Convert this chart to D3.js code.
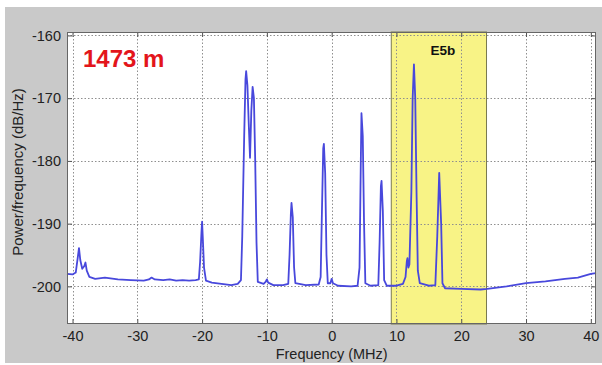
<!DOCTYPE html>
<html>
<head>
<meta charset="utf-8">
<script src="https://cdn.jsdelivr.net/npm/d3@7"></script>
<style>
  body { margin: 0; background: #fff; }
  text { font-family: "Liberation Sans", Arial, sans-serif; }
</style>
</head>
<body>
<div id="chart-area"></div>
<script>
// Spectrum data
var freq = [-40.85, -40.0, -39.5, -39.2, -39.0, -38.8, -38.5, -38.2, -38.0, -37.8, -37.4, -36.5, -35.0, -33.0, -31.0, -29.0, -28.2, -27.8, -27.3,
	-26.0, -25.0, -24.0, -23.0, -22.0, -21.0, -20.5, -20.3, -20.1, -20.0, -19.9, -19.7, -19.4, -18.5, -17.0, -15.5, -14.5, -14.0,
	-13.8, -13.5, -13.3, -13.2, -13.0, -12.8, -12.6, -12.4, -12.2, -12.0, -11.8, -11.6, -11.4, -10.5, -10.2, -10.0, -9.8, -9.0,
	-7.5, -6.7, -6.5, -6.3, -6.2, -6.0, -5.8, -5.6, -4.0, -2.0, -1.7, -1.5, -1.3, -1.2, -1.0, -0.8, -0.6, -0.2, 0.0, 0.2, 1.0,
	3.0, 4.0, 4.3, 4.5, 4.6, 4.8, 5.0, 5.2, 6.0, 7.2, 7.4, 7.6, 7.7, 7.9, 8.1, 8.5, 10.0, 11.0, 11.4, 11.6, 11.7, 11.85, 12.0,
	12.3, 12.5, 12.7, 12.9, 13.1, 13.3, 13.6, 15.0, 16.0, 16.3, 16.6, 16.9, 17.1, 17.5, 20.0, 23.0, 24.0, 27.0, 30.0, 33.0,
	36.0, 38.0, 40.0, 40.8];
var power = [-198.0, -198.1, -197.8, -195.5, -193.9, -195.8, -197.2, -196.8, -196.2, -197.5, -198.5, -198.8, -198.6, -198.9, -199.0, -199.1, -198.9, -198.6, -198.9,
	-199.0, -198.9, -199.1, -199.0, -199.1, -199.0, -198.9, -196.0, -191.5, -189.7, -192.0, -197.0, -199.1, -199.4, -199.6, -199.8, -199.6, -199.0,
	-192.0, -176.0, -167.0, -165.7, -168.0, -174.0, -179.5, -172.0, -168.2, -170.0, -180.0, -193.0, -199.3, -199.6, -199.3, -198.9, -199.4, -199.8,
	-199.8, -199.6, -195.0, -188.5, -186.7, -189.0, -197.0, -199.5, -199.8, -199.7, -198.5, -188.0, -178.0, -177.3, -182.0, -195.0, -199.5, -199.5, -198.8, -199.5, -199.9,
	-200.0, -199.9, -197.0, -180.0, -172.4, -176.0, -190.0, -199.5, -199.9, -199.8, -193.0, -184.0, -183.2, -188.0, -199.0, -199.9, -199.9, -199.6, -198.5, -196.0, -195.5, -197.0, -196.5,
	-185.0, -170.0, -164.6, -170.0, -185.0, -197.5, -199.5, -199.9, -199.8, -192.0, -181.9, -190.0, -199.5, -200.3, -200.4, -200.5, -200.4, -200.0, -199.5, -199.2,
	-198.8, -198.6, -198.0, -197.9];

var xTicks = [-40, -30, -20, -10, 0, 10, 20, 30, 40];
var yTicks = [-160, -170, -180, -190, -200];
var band = [9.2, 23.9];
var bandLabel = "E5b";
var title = "1473 m";

// Obszar wykresu
var width = 602, height = 365;
var margin = { left: 67, right: 596, top: 32, bottom: 324 };

var svg = d3.select("#chart-area")
	.append("svg")
	.attr("width", width)
	.attr("height", height);

// grey figure background
svg.append("rect")
	.attr("x", 5).attr("y", 7)
	.attr("width", width - 5).attr("height", 356)
	.attr("fill", "#c9c9c9");

var x = d3.scaleLinear()
	.domain([-40.85, 40.8])
	.range([margin.left, margin.right]);

var y = d3.scaleLinear()
	.domain([-206, -159.45])
	.range([margin.bottom, margin.top]);

svg.append("rect")
	.attr("x", margin.left).attr("y", margin.top)
	.attr("width", margin.right - margin.left).attr("height", margin.bottom - margin.top)
	.attr("fill", "#fff");

// E5b band
svg.append("rect")
	.attr("x", x(band[0])).attr("y", margin.top)
	.attr("width", x(band[1]) - x(band[0])).attr("height", margin.bottom - margin.top)
	.attr("fill", "#f8f386")
	.attr("stroke", "#7a7a50")
	.attr("stroke-width", 1);

// Gridlines
var grid = svg.append("g").attr("stroke", "#8f8f8f").attr("stroke-dasharray", "1.5,2").attr("stroke-width", 1);
xTicks.forEach(function(t) {
	grid.append("line")
		.attr("x1", Math.round(x(t)) + 0.5).attr("x2", Math.round(x(t)) + 0.5)
		.attr("y1", margin.top).attr("y2", margin.bottom);
});
yTicks.forEach(function(t) {
	grid.append("line")
		.attr("x1", margin.left).attr("x2", margin.right)
		.attr("y1", Math.round(y(t)) + 0.5).attr("y2", Math.round(y(t)) + 0.5);
});

// Spectrum
var pts = freq.map(function(f, i) { return [f, power[i]]; });
var line = d3.line()
	.x(d => x(d[0]))
	.y(d => y(d[1]));

svg.append("path")
	.datum(pts)
	.attr("fill", "none")
	.attr("stroke", "#4848dc")
	.attr("stroke-width", 1.8)
	.attr("stroke-linejoin", "round")
	.attr("d", line);

// Axes (ticks inside, box)
var fmt = d => String(d);
var xAxisCall = d3.axisBottom(x).tickValues(xTicks).tickSizeInner(-5).tickSizeOuter(0).tickPadding(7).tickFormat(fmt);
svg.append("g")
	.attr("transform", "translate(0," + margin.bottom + ")")
	.call(xAxisCall);
var yAxisCall = d3.axisLeft(y).tickValues(yTicks).tickSizeInner(-5).tickSizeOuter(0).tickPadding(6).tickFormat(fmt);
svg.append("g")
	.attr("transform", "translate(" + margin.left + ",0)")
	.call(yAxisCall);
svg.append("g").attr("transform", "translate(0," + margin.top + ")")
	.call(d3.axisTop(x).tickValues(xTicks).tickSizeInner(-5).tickSizeOuter(0).tickFormat(""));
svg.append("g").attr("transform", "translate(" + margin.right + ",0)")
	.call(d3.axisRight(y).tickValues(yTicks).tickSizeInner(-5).tickSizeOuter(0).tickFormat(""));

svg.selectAll(".domain").remove();
svg.selectAll(".tick line").attr("stroke", "#555");
svg.selectAll(".tick text")
	.attr("font-size", "14.5px")
	.attr("fill", "#222")
	.style("font-family", "'Liberation Sans', Arial, sans-serif");

svg.append("rect")
	.attr("x", margin.left + 0.5).attr("y", margin.top + 0.5)
	.attr("width", margin.right - margin.left - 1).attr("height", margin.bottom - margin.top - 1)
	.attr("fill", "none")
	.attr("stroke", "#666");

// Etykiety
svg.append("text")
	.attr("x", x(0))
	.attr("y", 359)
	.attr("text-anchor", "middle")
	.attr("font-size", "14.5px")
	.attr("fill", "#222")
	.text("Frequency (MHz)");

svg.append("text")
	.attr("transform", "translate(23," + 172 + ") rotate(-90)")
	.attr("text-anchor", "middle")
	.attr("font-size", "15px")
	.attr("fill", "#222")
	.text("Power/frequency (dB/Hz)");

svg.append("text")
	.attr("x", 83)
	.attr("y", 67)
	.attr("font-size", "24px")
	.attr("font-weight", "bold")
	.attr("fill", "#e3151b")
	.text(title);

svg.append("text")
	.attr("x", 443)
	.attr("y", 55)
	.attr("text-anchor", "middle")
	.attr("font-size", "13.5px")
	.attr("font-weight", "bold")
	.attr("fill", "#111")
	.text(bandLabel);
</script>
</body>
</html>
